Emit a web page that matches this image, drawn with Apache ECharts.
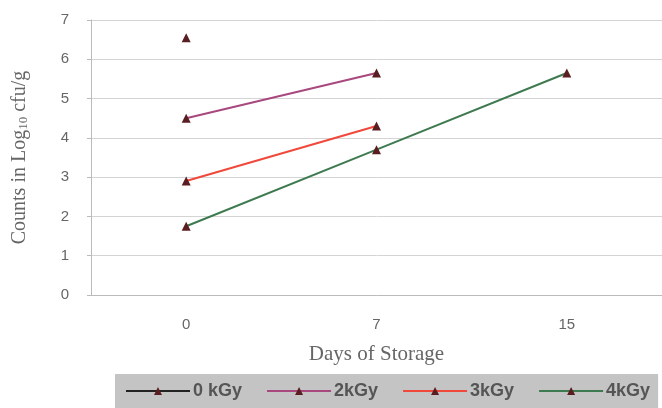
<!DOCTYPE html>
<html><head><meta charset="utf-8">
<script src="https://cdn.jsdelivr.net/npm/echarts@6/dist/echarts.min.js"></script>
<style>html,body{margin:0;padding:0;background:#fff}#c{width:662px;height:408px}</style>
</head><body><div id="c"></div>
<script>
const days = ['0', '7', '15'];
const yTicks = [0, 1, 2, 3, 4, 5, 6, 7];
const s0kGy = [6.55, null, null];
const s2kGy = [4.5, 5.65, null];
const s3kGy = [2.9, 4.3, null];
const s4kGy = [1.75, 3.7, 5.65];

const chart = echarts.init(document.getElementById('c'));
const mk = (name, data, color) => ({
  name, type: 'line', data, symbol: 'triangle', symbolSize: 9,
  lineStyle: { color, width: 2 },
  itemStyle: { color: '#5a1e22', borderWidth: 0 },
  connectNulls: false
});
chart.setOption({
  animation: false,
  grid: { left: 91, right: -5, top: 20, bottom: 113 },
  xAxis: {
    type: 'category', data: days,
    name: 'Days of Storage', nameLocation: 'middle', nameGap: 49,
    nameTextStyle: { fontFamily: 'Liberation Serif', fontSize: 21, color: '#666' },
    axisLine: { lineStyle: { color: '#bbb' } },
    axisTick: { show: false },
    axisLabel: { margin: 22, color: '#666', fontFamily: 'Liberation Sans', fontSize: 15 }
  },
  yAxis: {
    type: 'value', min: 0, max: 7, interval: 1,
    name: 'Counts in Log{s|10} cfu/g', nameLocation: 'middle', nameGap: 61,
    nameTextStyle: { fontFamily: 'Liberation Serif', fontSize: 20, color: '#666',
      rich: { s: { fontFamily: 'Liberation Serif', fontSize: 13, color: '#666', verticalAlign: 'bottom', padding: [5, 0, 0, 0] } } },
    axisLine: { show: true, lineStyle: { color: '#bbb' } },
    axisTick: { show: true, length: 4, lineStyle: { color: '#bbb' } },
    splitLine: { lineStyle: { color: '#d4d4d4' } },
    axisLabel: { margin: 22, color: '#666', fontFamily: 'Liberation Sans', fontSize: 15,
      formatter: v => yTicks.includes(v) ? String(v) : '' }
  },
  legend: {
    bottom: 0, left: 115, width: 560, itemGap: 24,
    backgroundColor: '#c4c4c4', padding: [8, 8, 8, 10],
    itemWidth: 64, itemHeight: 10,
    textStyle: { fontFamily: 'Liberation Sans', fontWeight: 'bold', fontSize: 18, color: '#555', padding: [0, 0, 0, -2] },
    data: ['0 kGy', '2kGy', '3kGy', '4kGy']
  },
  series: [
    mk('0 kGy', s0kGy, '#222'),
    mk('2kGy', s2kGy, '#a8487e'),
    mk('3kGy', s3kGy, '#f0483a'),
    mk('4kGy', s4kGy, '#3e7a50')
  ]
});
</script></body></html>
